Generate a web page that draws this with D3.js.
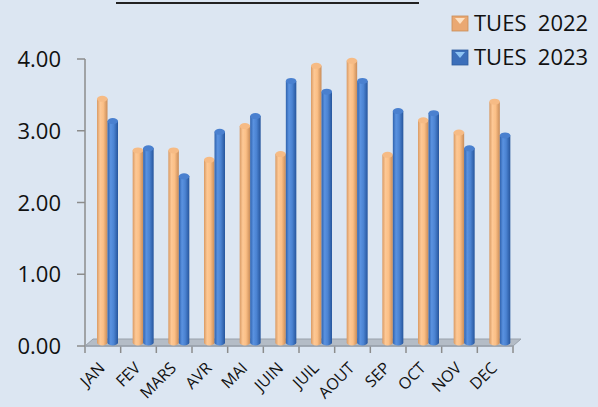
<!DOCTYPE html>
<html>
<head>
<meta charset="utf-8">
<script src="https://cdn.jsdelivr.net/npm/d3@7"></script>
<style>
  body { margin: 0; background: #dce6f2; }
  text { font-family: "Open Sans", "Noto Sans", sans-serif; fill: #111; }
</style>
</head>
<body>
<div id="container"></div>
<script>
var width = 598,
    height = 407;

var months = ["JAN", "FEV", "MARS", "AVR", "MAI", "JUIN", "JUIL", "AOUT", "SEP", "OCT", "NOV", "DEC"];
var tues2022 = [3.41, 2.69, 2.69, 2.56, 3.03, 2.64, 3.87, 3.94, 2.63, 3.11, 2.94, 3.37];
var tues2023 = [3.10, 2.72, 2.33, 2.95, 3.17, 3.66, 3.51, 3.66, 3.24, 3.21, 2.72, 2.90];
var seriesNames = ["TUES\u00a0\u00a02022", "TUES\u00a0\u00a02023"];
var yTicks = [0, 1, 2, 3, 4];

var svg = d3.select("#container").append("svg")
    .attr("width", width)
    .attr("height", height);

svg.append("rect").attr("width", width).attr("height", height).attr("fill", "#dce6f2");

var x0 = 85, x1 = 513, y0 = 346, y4 = 59;
var depthX = 8, depthY = -7;

var x = d3.scaleBand().domain(months).range([x0, x1]);
var y = d3.scaleLinear().domain([0, 4]).range([y0, y4]);

// gradients
var defs = svg.append("defs");
function grad(id, stops) {
    var g = defs.append("linearGradient").attr("id", id)
        .attr("x1", "0%").attr("x2", "100%").attr("y1", "0%").attr("y2", "0%");
    stops.forEach(s => g.append("stop").attr("offset", s[0]).attr("stop-color", s[1]));
}
grad("gOrange", [["0%", "#d99a64"], ["30%", "#fdc895"], ["60%", "#fbbf86"], ["100%", "#c98c58"]]);
grad("gBlue", [["0%", "#2f62ad"], ["30%", "#5a92e0"], ["60%", "#4b83d2"], ["100%", "#26559c"]]);

// title underline (cut off)
svg.append("line").attr("x1", 116).attr("x2", 419).attr("y1", 3).attr("y2", 3)
    .attr("stroke", "#222").attr("stroke-width", 2);

// floor
svg.append("path")
    .attr("d", `M${x0},${y0} L${x1},${y0} L${x1 + depthX},${y0 + depthY} L${x0 + depthX},${y0 + depthY} Z`)
    .attr("fill", "#b4bcc6").attr("stroke", "#9aa2ac").attr("stroke-width", 1);

// y axis
svg.append("line").attr("x1", x0).attr("x2", x0).attr("y1", y4).attr("y2", y0)
    .attr("stroke", "#8c8c8c").attr("stroke-width", 1.5);
yTicks.forEach(function (t) {
    svg.append("line").attr("x1", x0 - 8).attr("x2", x0).attr("y1", y(t)).attr("y2", y(t))
        .attr("stroke", "#8c8c8c").attr("stroke-width", 1.5);
    svg.append("text").attr("x", 61).attr("y", y(t) + 8)
        .attr("text-anchor", "end").attr("font-size", 22)
        .text(d3.format(".2f")(t));
});

// x axis ticks
d3.range(months.length + 1).forEach(function (i) {
    var xx = x0 + i * x.step();
    svg.append("line").attr("x1", xx).attr("x2", xx).attr("y1", y0).attr("y2", y0 + 7)
        .attr("stroke", "#8c8c8c").attr("stroke-width", 1.5);
});
svg.append("line").attr("x1", x0).attr("x2", x1).attr("y1", y0).attr("y2", y0)
    .attr("stroke", "#9aa2ac").attr("stroke-width", 1.5);

// month labels
months.forEach(function (m) {
    var cx = x(m) + x.bandwidth() / 2 + 3;
    svg.append("text")
        .attr("transform", `translate(${cx},${y0 + 23}) rotate(-45)`)
        .attr("text-anchor", "end").attr("font-size", 16)
        .text(m);
});

// cylinder bars
var bw = 10.5, cap = 3;
function drawBar(xl, v, fill, top) {
    var yt = y(v) + depthY / 2 + 1;
    var yb = y0 + depthY / 2;
    var g = svg.append("g");
    g.append("path")
        .attr("d", `M${xl},${yt} L${xl},${yb} A${bw / 2},${cap} 0 0 0 ${xl + bw},${yb} L${xl + bw},${yt} Z`)
        .attr("fill", fill);
    g.append("ellipse").attr("cx", xl + bw / 2).attr("cy", yt).attr("rx", bw / 2).attr("ry", cap)
        .attr("fill", top);
}
months.forEach(function (m, i) {
    var start = x(m) + 12;
    drawBar(start, tues2022[i], "url(#gOrange)", "#f6bb85");
    drawBar(start + bw, tues2023[i], "url(#gBlue)", "#4a80cf");
});

// legend
var legColors = [["#eaa872", "#fde2c4"], ["#3c6fba", "#8ec4f4"]];
seriesNames.forEach(function (s, i) {
    var ly = 16 + i * 34;
    svg.append("rect").attr("x", 452).attr("y", ly).attr("width", 16).attr("height", 15)
        .attr("fill", legColors[i][0]).attr("stroke", i ? "#2f5d9e" : "#c98c58").attr("stroke-width", 0.8);
    svg.append("path").attr("d", `M${455},${ly + 2} L${465},${ly + 2} L${460},${ly + 8} Z`)
        .attr("fill", legColors[i][1]);
    svg.append("text").attr("x", 474).attr("y", ly + 15).attr("font-size", 22)
        .text(s);
});
</script>
</body>
</html>
